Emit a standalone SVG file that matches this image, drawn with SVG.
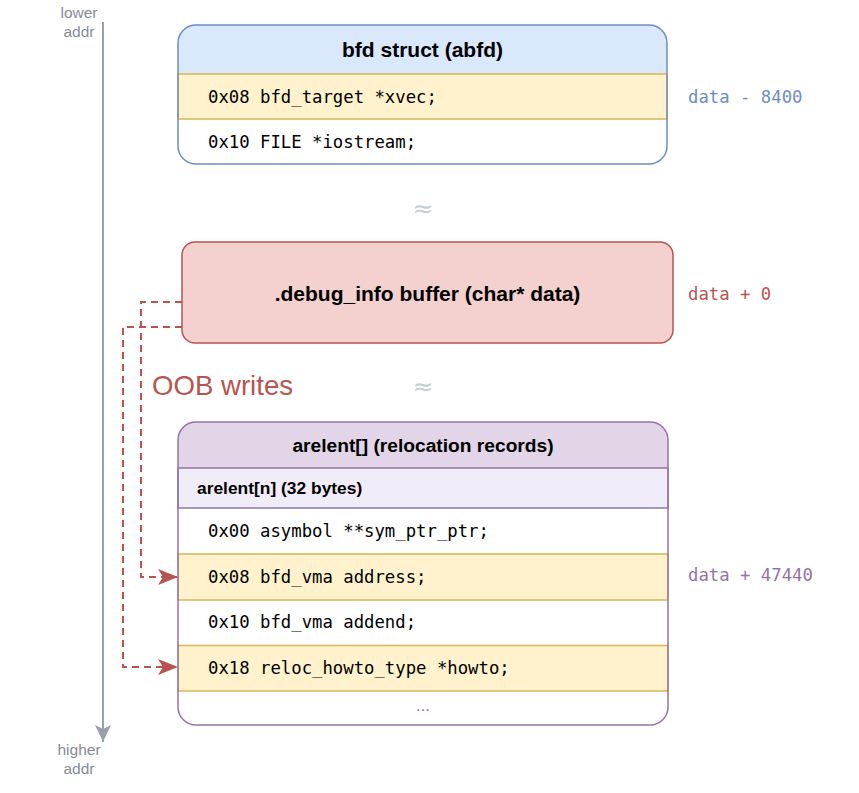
<svg xmlns="http://www.w3.org/2000/svg" width="859" height="793" viewBox="0 0 859 793">
<style>
.mono{font-family:"DejaVu Sans Mono","Liberation Mono",monospace;font-size:17.3px;dominant-baseline:central;fill:#000}
.title{font-family:"Liberation Sans",Arial,sans-serif;font-weight:bold;font-size:21px;text-anchor:middle;dominant-baseline:central;fill:#000}
.axis{font-family:"Liberation Sans",Arial,sans-serif;font-size:15.5px;text-anchor:middle;fill:#868b95}
.yrow{fill:#fff2cc;stroke:#d6b656;stroke-width:1.5}
.approx{font-family:"DejaVu Sans",sans-serif;font-size:25px;text-anchor:middle;dominant-baseline:central;fill:#c5cdd9}
.oob{fill:none;stroke:#b85450;stroke-width:2;stroke-dasharray:7 5}
</style>
<defs>
<marker id="ah" viewBox="0 0 20 16" refX="19" refY="8" markerWidth="20" markerHeight="16" markerUnits="userSpaceOnUse" orient="auto">
<path d="M0,0 L20,8 L0,16 L5,8 Z" fill="#b85450"/>
</marker>
<marker id="axh" viewBox="0 0 16 18" refX="8" refY="17" markerWidth="16" markerHeight="18" markerUnits="userSpaceOnUse" orient="0">
<path d="M0,0 L8,4 L16,0 L8,17 Z" fill="#9aa0aa"/>
</marker>
</defs>

<g id="axis">
<text class="axis" x="79" y="18">lower</text>
<text class="axis" x="79" y="37">addr</text>
<line x1="103" y1="22" x2="103" y2="742" stroke="#9aa0aa" stroke-width="2" marker-end="url(#axh)"/>
<text class="axis" x="79" y="755">higher</text>
<text class="axis" x="79" y="774">addr</text>
</g>

<g id="bfd-struct">
<rect x="178" y="25" width="489" height="139" rx="18" fill="#ffffff"/>
<path d="M178,74 V43 A18,18 0 0 1 196,25 H649 A18,18 0 0 1 667,43 V74 Z" fill="#dae8fc"/>
<rect class="yrow" x="178" y="74" width="489" height="45"/>
<rect x="178" y="25" width="489" height="139" rx="18" fill="none" stroke="#6c8ebf" stroke-width="1.5"/>
<text class="title" x="422.5" y="49.5">bfd struct (abfd)</text>
<text class="mono" x="208" y="97">0x08 bfd_target *xvec;</text>
<text class="mono" x="208" y="142">0x10 FILE *iostream;</text>
</g>
<text id="label-data-minus" class="mono" x="688" y="97" style="fill:#6c8ebf">data - 8400</text>

<text id="gap1" class="approx" x="423" y="208">≈</text>

<g id="debug-info">
<rect x="182" y="242" width="491" height="101" rx="13" fill="#f4d0ce" stroke="#b85450" stroke-width="1.5"/>
<text class="title" x="427.5" y="293">.debug_info buffer (char* data)</text>
</g>
<text id="label-data-zero" class="mono" x="688" y="294" style="fill:#b85450">data + 0</text>

<text id="oob-label" x="152" y="395" font-family="'Liberation Sans',Arial,sans-serif" font-size="27.6" fill="#b85450">OOB writes</text>
<text id="gap2" class="approx" x="423" y="386">≈</text>

<g id="arelent">
<rect x="178" y="422" width="490" height="303" rx="18" fill="#ffffff"/>
<path d="M178,468 V440 A18,18 0 0 1 196,422 H650 A18,18 0 0 1 668,440 V468 Z" fill="#e1d5e7"/>
<rect x="178" y="468" width="490" height="40" fill="#f1edf8" stroke="#9673a6" stroke-width="1.5"/>
<rect class="yrow" x="178" y="554" width="490" height="46"/>
<rect class="yrow" x="178" y="645.5" width="490" height="45.5"/>
<rect x="178" y="422" width="490" height="303" rx="18" fill="none" stroke="#9673a6" stroke-width="1.5"/>
<text class="title" x="423" y="445" style="font-size:19.2px">arelent[] (relocation records)</text>
<text x="197" y="488" font-family="'Liberation Sans',Arial,sans-serif" font-weight="bold" font-size="17.4" dominant-baseline="central">arelent[n] (32 bytes)</text>
<text class="mono" x="208" y="531">0x00 asymbol **sym_ptr_ptr;</text>
<text class="mono" x="208" y="577">0x08 bfd_vma address;</text>
<text class="mono" x="208" y="622">0x10 bfd_vma addend;</text>
<text class="mono" x="208" y="668">0x18 reloc_howto_type *howto;</text>
<text x="423" y="705" font-family="'Liberation Sans',Arial,sans-serif" font-size="17" text-anchor="middle" dominant-baseline="central" fill="#9673a6">...</text>
</g>
<text id="label-data-plus" class="mono" x="688" y="575" style="fill:#9673a6">data + 47440</text>

<g id="connectors">
<path class="oob" d="M182,302 H141 V577 H177" marker-end="url(#ah)"/>
<path class="oob" d="M182,327 H123 V667 H177" marker-end="url(#ah)"/>
</g>
</svg>
